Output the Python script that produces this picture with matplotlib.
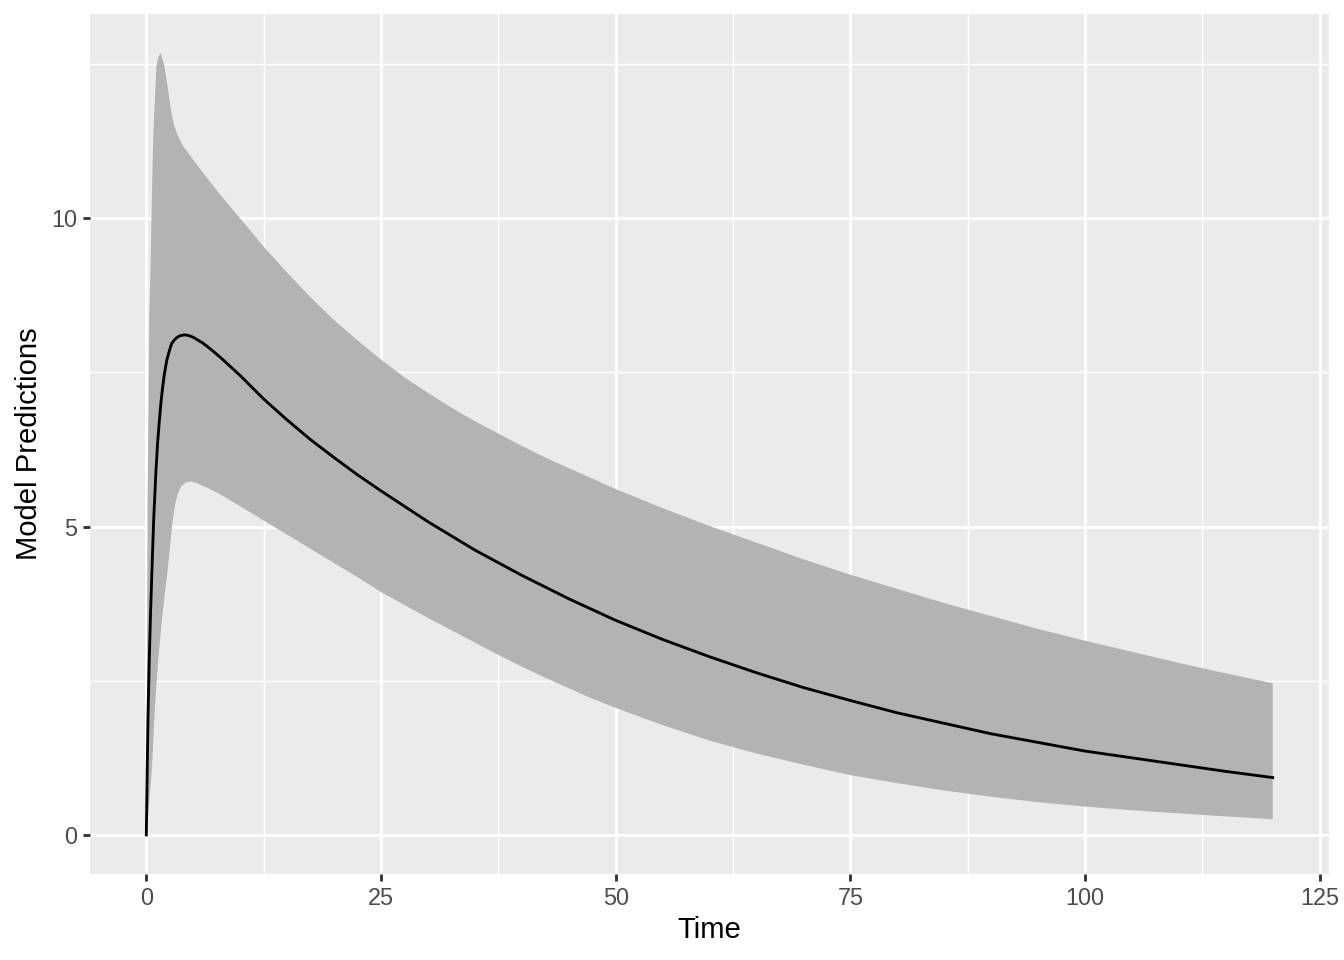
import numpy as np
import matplotlib
matplotlib.use("Agg")
import matplotlib.pyplot as plt
from matplotlib.ticker import FixedLocator

# ---- data ----
mean_t = [0, 0.1, 0.18, 0.3, 0.45, 0.6, 0.78, 1.03, 1.2, 1.39, 1.55, 1.74, 1.9,
          2.17, 2.45, 2.7, 2.95, 3.2, 3.45, 3.7, 4.1, 4.5, 5.0, 6.0, 7.0, 8.0,
          9.0, 10, 12.5, 15, 17.5, 20, 22.5, 25, 30, 35, 40, 45, 50, 55, 60,
          65, 70, 75, 80, 85, 90, 95, 100, 105, 110, 115, 120]
mean_v = [0, 1.1, 1.9, 2.75, 3.6, 4.29, 5.1, 5.91, 6.35, 6.72, 7.0, 7.26, 7.45,
          7.69, 7.85, 7.97, 8.02, 8.06, 8.085, 8.1, 8.11, 8.1, 8.07, 7.98, 7.86,
          7.73, 7.59, 7.45, 7.07, 6.73, 6.41, 6.12, 5.84, 5.58, 5.08, 4.62, 4.21,
          3.83, 3.48, 3.17, 2.89, 2.63, 2.39, 2.18, 1.98, 1.81, 1.64, 1.50, 1.36,
          1.25, 1.14, 1.03, 0.93]

upper_t = [0, 0.1, 0.14, 0.32, 0.45, 0.55, 0.67, 0.78, 0.92, 1.07, 1.28, 1.53,
           1.92, 2.27, 2.63, 2.98, 3.34, 3.87, 4.76, 5.83, 7.0, 8.0, 9.0, 10,
           12.5, 15, 17.5, 20, 22.5, 25, 27.5, 30, 32.5, 35, 37.5, 40, 42.5, 45,
           47.5, 50, 55, 60, 65, 70, 75, 80, 85, 90, 95, 100, 105, 110, 115, 120]
upper_v = [0, 4.0, 5.5, 8.4, 9.2, 10.0, 10.9, 11.5, 11.95, 12.46, 12.62, 12.68,
           12.48, 12.13, 11.75, 11.5, 11.35, 11.18, 11.0, 10.78, 10.55, 10.36,
           10.18, 10.0, 9.54, 9.12, 8.72, 8.35, 8.02, 7.71, 7.42, 7.17, 6.93,
           6.71, 6.51, 6.31, 6.12, 5.95, 5.78, 5.61, 5.30, 5.01, 4.74, 4.47, 4.22,
           3.99, 3.76, 3.55, 3.34, 3.15, 2.97, 2.79, 2.62, 2.46]

lower_t = [0, 0.32, 0.6, 0.96, 1.3, 1.7, 2.0, 2.27, 2.55, 2.81, 3.05, 3.34, 3.7,
           4.23, 4.8, 5.47, 6.5, 7.8, 10, 12.5, 15, 17.5, 20, 22.5, 25, 27.5, 30,
           32.5, 35, 37.5, 40, 42.5, 45, 47.5, 50, 55, 60, 65, 70, 75, 80, 85,
           90, 95, 100, 105, 110, 115, 120]
lower_v = [0, 0.55, 1.09, 2.18, 2.9, 3.55, 3.95, 4.29, 4.72, 5.1, 5.35, 5.53, 5.65,
           5.72, 5.73, 5.7, 5.63, 5.53, 5.33, 5.10, 4.87, 4.64, 4.41, 4.18, 3.94,
           3.73, 3.52, 3.32, 3.12, 2.92, 2.73, 2.55, 2.38, 2.21, 2.06, 1.78, 1.53,
           1.32, 1.14, 0.97, 0.84, 0.72, 0.62, 0.53, 0.46, 0.40, 0.35, 0.30, 0.255]

x_ticks = [0, 25, 50, 75, 100, 125]
y_ticks = [0, 5, 10]
x_minor = [12.5, 37.5, 62.5, 87.5, 112.5]
y_minor = [2.5, 7.5, 12.5]

# ---- figure ----
plt.rcParams['font.family'] = ['Liberation Sans', 'DejaVu Sans']
fig = plt.figure(figsize=(13.44, 9.6), dpi=100)
ax = fig.add_axes([90/1344, 1-874/960, (1329-90)/1344, (874-14)/960])
ax.set_facecolor('#EBEBEB')
for s in ax.spines.values():
    s.set_visible(False)

ax.set_xlim(-6, 126)
ymax = max(upper_v)
ax.set_ylim(-0.05*ymax, ymax*1.05)

ax.xaxis.set_major_locator(FixedLocator(x_ticks))
ax.yaxis.set_major_locator(FixedLocator(y_ticks))
ax.xaxis.set_minor_locator(FixedLocator(x_minor))
ax.yaxis.set_minor_locator(FixedLocator(y_minor))
ax.grid(which='major', color='white', linewidth=2.05)
ax.grid(which='minor', color='white', linewidth=1.02)
ax.set_axisbelow(True)
ax.tick_params(which='major', length=5.3, width=2.05, color='#333333',
               labelcolor='#4D4D4D', labelsize=16.9, pad=4.2)
ax.tick_params(which='minor', length=0)

poly_x = np.concatenate([upper_t, lower_t[::-1]])
poly_y = np.concatenate([upper_v, lower_v[::-1]])
ax.fill(poly_x, poly_y, color='#B3B3B3', linewidth=0, zorder=2)
ax.plot(mean_t, mean_v, color='black', linewidth=2.05, zorder=3,
        solid_joinstyle='round')

ax.set_xlabel('Time', fontsize=21.1, color='black', labelpad=4.5)
ax.set_ylabel('Model Predictions', fontsize=21.1, color='black', labelpad=5.3)

fig.savefig('out.png', dpi=100)
